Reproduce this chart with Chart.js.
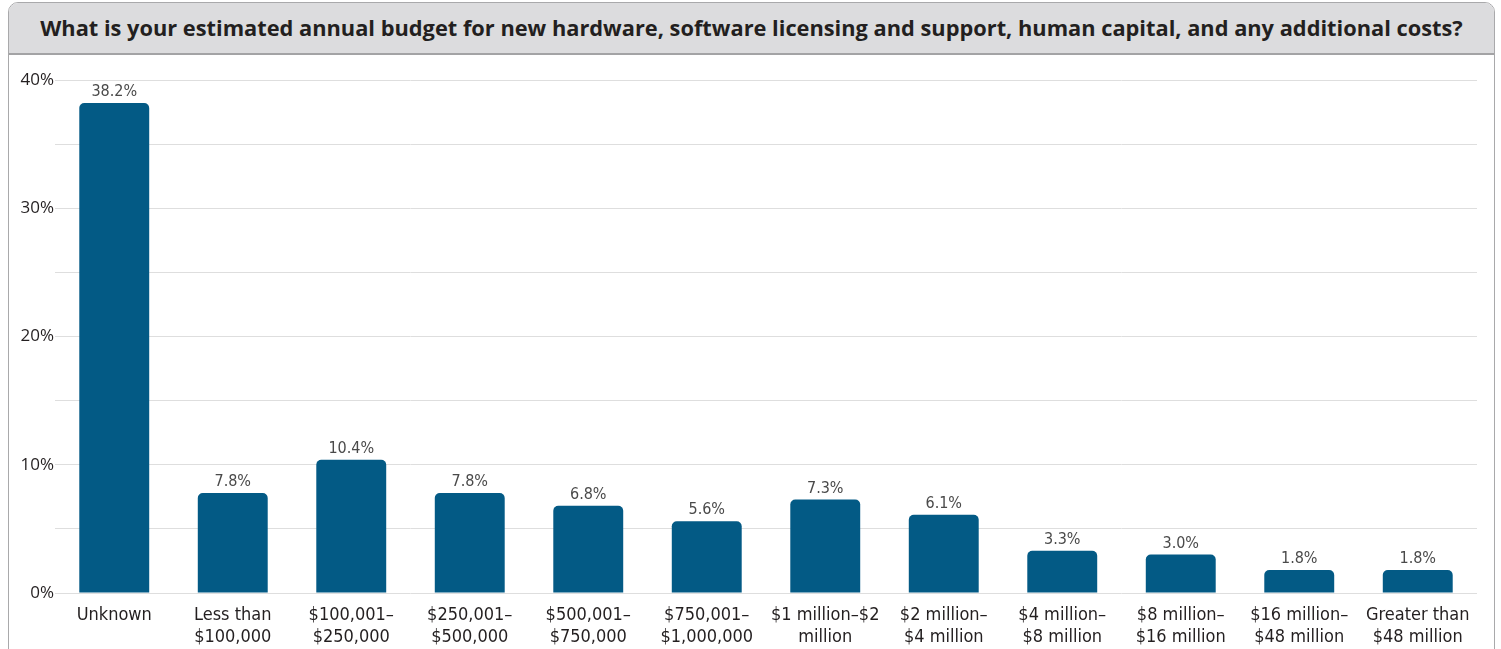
<!DOCTYPE html>
<html>
<head>
<meta charset="utf-8">
<script src="https://cdn.jsdelivr.net/npm/chart.js@4.4.1/dist/chart.umd.min.js"></script>
<style>
  html, body { margin: 0; padding: 0; background: #fff; overflow: hidden; }
  #frame {
    position: absolute; left: 8px; top: 2px; width: 1485px; height: 660px;
    border: 1px solid #a9a9ab; border-radius: 10px 10px 0 0; overflow: hidden;
  }
  #header {
    height: 50px; background: #dcdcde; border-bottom: 2px solid #a3a3a5;
    font-family: "Open Sans", "Noto Sans", sans-serif; font-weight: 700;
    font-size: 21.8px; color: #231f20; text-align: center; line-height: 50px;
    white-space: nowrap;
  }
  #wrap { position: relative; width: 1485px; height: 596px; }
</style>
</head>
<body>
<div id="frame">
  <div id="header">What is your estimated annual budget for new hardware, software licensing and support, human capital, and any additional costs?</div>
  <div id="wrap"><canvas id="budgetChart"></canvas></div>
</div>
<script>
// Danh mục và giá trị (%)
let categories = [
    "Unknown",
    ["Less than", "$100,000"],
    ["$100,001–", "$250,000"],
    ["$250,001–", "$500,000"],
    ["$500,001–", "$750,000"],
    ["$750,001–", "$1,000,000"],
    ["$1 million–$2", "million"],
    ["$2 million–", "$4 million"],
    ["$4 million–", "$8 million"],
    ["$8 million–", "$16 million"],
    ["$16 million–", "$48 million"],
    ["Greater than", "$48 million"]
];
let shares = [38.2, 7.8, 10.4, 7.8, 6.8, 5.6, 7.3, 6.1, 3.3, 3.0, 1.8, 1.8];
let yTicks = [0, 10, 20, 30, 40];

const narrow = '"Liberation Sans Narrow", "DejaVu Sans Condensed", sans-serif';

// Nhãn giá trị trên đầu cột
const valueLabels = {
    id: "valueLabels",
    afterDatasetsDraw(chart) {
        let ctx = chart.ctx;
        let meta = chart.getDatasetMeta(0);
        ctx.save();
        ctx.font = "16px " + narrow;
        ctx.fillStyle = "#4a4a4a";
        ctx.textAlign = "center";
        ctx.textBaseline = "bottom";
        meta.data.forEach((bar, i) => {
            ctx.fillText(shares[i].toFixed(1) + "%", bar.x, bar.y - 3);
        });
        ctx.restore();
    }
};

new Chart(document.getElementById("budgetChart"), {
    type: "bar",
    data: {
        labels: categories,
        datasets: [{
            data: shares,
            backgroundColor: "#035a85",
            borderRadius: 5,
            borderSkipped: "start",
            categoryPercentage: 1,
            barPercentage: 0.59
        }]
    },
    options: {
        responsive: true,
        maintainAspectRatio: false,
        animation: false,
        layout: { padding: { top: 25, right: 17, left: 0, bottom: 0 } },
        plugins: { legend: { display: false }, tooltip: { enabled: false } },
        scales: {
            x: {
                grid: { display: false },
                border: { display: false },
                ticks: {
                    color: "#231f20",
                    font: { family: narrow, size: 18, lineHeight: 1.22 },
                    maxRotation: 0,
                    autoSkip: false,
                    padding: 3
                }
            },
            y: {
                min: 0,
                max: 40,
                afterFit(scale) { scale.width = 46; },
                border: { display: false },
                grid: { color: "#dedede", drawTicks: false },
                ticks: {
                    stepSize: 5,
                    padding: 1,
                    color: "#231f20",
                    font: { family: '"Open Sans", "Noto Sans", sans-serif', size: 17 },
                    callback: v => yTicks.includes(v) ? v + "%" : ""
                }
            }
        }
    },
    plugins: [valueLabels]
});
</script>
</body>
</html>
